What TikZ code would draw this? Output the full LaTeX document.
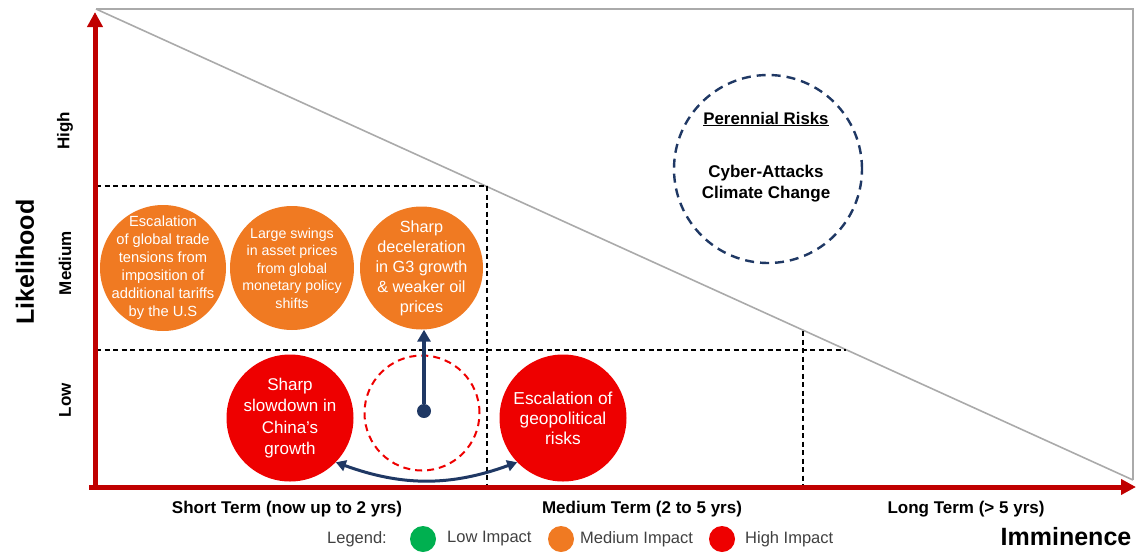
\documentclass[tikz,border=0pt]{standalone}
\usepackage{fontspec}
\setmainfont{Liberation Sans}
\usetikzlibrary{arrows.meta}

\definecolor{axisred}{RGB}{192,0,0}
\definecolor{framegray}{RGB}{170,170,170}
\definecolor{navy}{RGB}{31,56,100}
\definecolor{lowimp}{RGB}{0,176,80}
\definecolor{medimp}{RGB}{240,122,34}
\definecolor{highimp}{RGB}{238,0,0}
\definecolor{legendtext}{RGB}{64,64,64}

\newcommand\fsz[2]{\fontsize{#1}{#2}\selectfont}

\begin{document}
\begin{tikzpicture}[x=1pt,y=1pt,
  axis/.style={axisred, line width=5pt, -{Triangle[length=15pt,width=15pt]}},
  frameline/.style={framegray, line width=1.6pt},
  gridline/.style={black, line width=1.2pt, dash pattern=on 5pt off 3.5pt},
  bubble/.style={circle, inner sep=0pt},
  med/.style={bubble, fill=medimp},
  high/.style={bubble, fill=highimp},
  bubbletext/.style={inner sep=0pt, align=center, text=white},
  levellabel/.style={rotate=90, font=\bfseries\fsz{17}{20}},
  termlabel/.style={font=\bfseries\fsz{17}{20}},
  biglabel/.style={font=\bfseries\fsz{25}{30}},
  legenddot/.style={circle, inner sep=0pt, minimum size=26pt},
  legendlabel/.style={anchor=west, inner sep=0pt, text=legendtext, font=\fsz{16.5}{20}},
  link/.style={navy, line width=3.5pt, -{Triangle[length=12pt,width=13pt]}},
  twoway/.style={navy, line width=3pt, {Triangle[length=10pt,width=11pt]}-{Triangle[length=10pt,width=11pt]}}
]
\useasboundingbox (0,0) rectangle (1136,-552);

% frame of the chart and its diagonal boundary
\coordinate (topleft) at (96,-9);
\coordinate (topright) at (1133,-9);
\coordinate (botright) at (1133,-480);
\draw[frameline] (topleft) -- (topright) -- (botright);
\draw[frameline] (topleft) -- (botright);

% dashed grid
\draw[gridline] (96,-186) -- (487,-186);
\draw[gridline] (487,-186) -- (487,-487);
\draw[gridline] (96,-350) -- (846,-350);
\draw[gridline] (803,-331) -- (803,-487);

% axes
\coordinate (origin) at (95,-487);
\coordinate (ytip) at (95,-12);
\coordinate (xtip) at (1136,-487);
\draw[axis] ([xshift=-6pt]origin) -- (xtip);
\draw[axis] ([yshift=-2.5pt]origin) -- (ytip);

% axis labels
\node[levellabel] (high) at (65,-131) {High};
\node[levellabel] (medium) at (65,-263) {Medium};
\node[levellabel] (low) at (65,-400) {Low};
\node[biglabel, rotate=90] (likelihood) at (25,-262) {Likelihood};

\node[termlabel] (short) at (287,-509) {Short Term (now up to 2 yrs)};
\node[termlabel] (mid) at (642,-509) {Medium Term (2 to 5 yrs)};
\node[termlabel] (long) at (966,-509) {Long Term (> 5 yrs)};
\node[biglabel] (imminence) at (1066,-537) {Imminence};

% medium impact risks
\node[med, minimum size=126pt] (trade) at (163,-268) {};
\node[bubbletext, font=\fsz{14.7}{18}] (tradetext) at (trade)
  {Escalation\\of global trade\\tensions from\\imposition of\\additional tariffs\\by the U.S};
\node[med, minimum size=124pt] (swings) at (292,-268) {};
\node[bubbletext, font=\fsz{14.2}{17.5}] (swingstext) at (swings)
  {Large swings\\in asset prices\\from global\\monetary policy\\shifts};
\node[med, minimum size=123pt] (g3) at (421.5,-268) {};
\node[bubbletext, font=\fsz{16.2}{20}] (g3text) at (g3)
  {Sharp\\deceleration\\in G3 growth\\\& weaker oil\\prices};

% high impact risks
\node[high, minimum size=127pt] (china) at (290,-418) {};
\node[bubbletext, font=\fsz{17}{21.5}] (chinatext) at (china)
  {Sharp\\slowdown in\\China's\\growth};
\node[high, minimum size=127pt] (geo) at (563,-418) {};
\node[bubbletext, font=\fsz{17.3}{20}] (geotext) at (geo)
  {Escalation of\\geopolitical\\risks};

% former position of the G3 risk
\node[circle, draw=highimp, line width=2pt, dash pattern=on 7pt off 5pt,
      minimum size=115pt, inner sep=0pt] (oldpos) at (422,-413) {};
\node[circle, fill=navy, minimum size=14pt, inner sep=0pt] (dot) at (424,-411) {};
\draw[link] (dot) -- (dot |- g3.south);
\draw[twoway] (china.-44) to[out=-20, in=200] (geo.224);

% perennial risks
\node[circle, draw=navy, line width=2.4pt, dash pattern=on 9pt off 6pt,
      minimum size=188pt, inner sep=0pt] (perennial) at (768,-169) {};
\node[font=\bfseries\fsz{16.8}{20}] (pertitle) at (766,-119) {\underline{Perennial Risks}};
\node[font=\bfseries\fsz{17}{21}, align=center] (perlist) at (766,-184)
  {Cyber-Attacks\\Climate Change};

% legend
\node[inner sep=0pt, text=legendtext, font=\fsz{16.5}{20}] (legend) at (357,-539) {Legend:};
\node[legenddot, fill=lowimp] (lowdot) at (423,-539) {};
\node[legendlabel] (lowtxt) at (447,-539) {Low Impact};
\node[legenddot, fill=medimp] (meddot) at (561,-539) {};
\node[legendlabel] (medtxt) at (580,-539) {Medium Impact};
\node[legenddot, fill=highimp] (highdot) at (722,-539) {};
\node[legendlabel] (hightxt) at (745,-539) {High Impact};
\end{tikzpicture}
\end{document}
